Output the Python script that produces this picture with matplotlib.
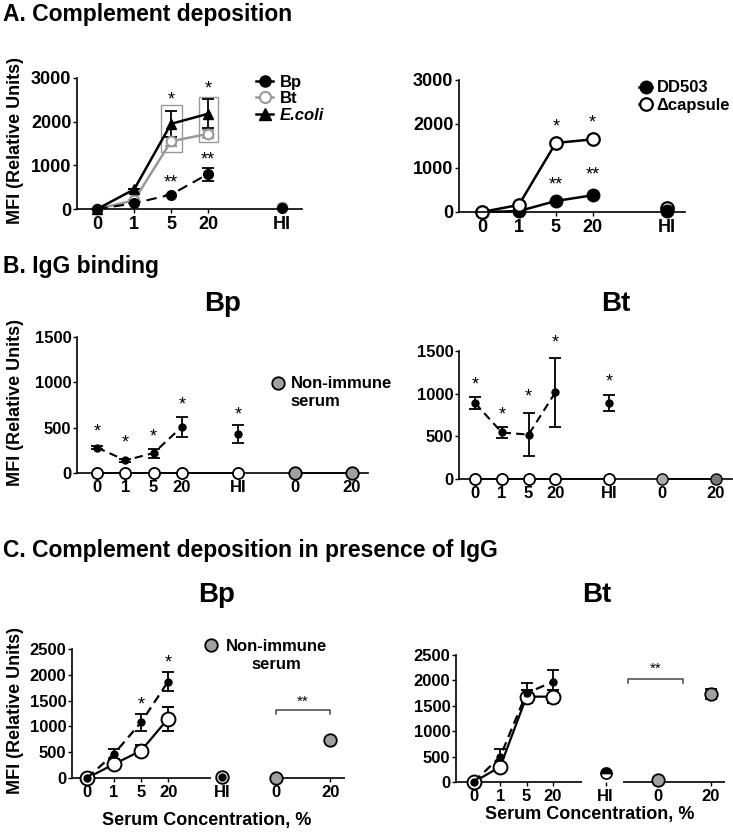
import matplotlib
matplotlib.use('Agg')
import matplotlib.pyplot as plt
from matplotlib.patches import Rectangle
from matplotlib.lines import Line2D

plt.rcParams['font.family'] = ['Liberation Sans', 'DejaVu Sans']
plt.rcParams['font.weight'] = 'bold'
plt.rcParams['axes.linewidth'] = 1.2

# ---- data ----
conc_labels = ['0', '1', '5', '20']
conc_pos = [0, 1, 2, 3]
hi_pos = 5
ni_pos = [7, 9]
ni_labels = ['0', '20']

# A left: complement deposition
a_bp = [0, 130, 330, 800]
a_bp_err = [0, 0, 0, 150]
a_bp_hi = 20
a_bt = [0, 200, 1550, 1720]
a_bt_err = [0, 0, 100, 100]
a_bt_hi = 50
a_ec = [0, 450, 1950, 2180]
a_ec_err = [0, 0, 300, 330]

# A right
a_dd = [0, 20, 250, 380]
a_dd_hi = 20
a_cap = [0, 160, 1570, 1650]
a_cap_hi = 80

# B: IgG binding
b_bp = [280, 140, 220, 510]
b_bp_err = [20, 15, 50, 110]
b_bp_hi = 430
b_bp_hi_err = 100
b_bt = [890, 545, 520, 1015]
b_bt_err = [70, 70, 250, 400]
b_bt_hi = 890
b_bt_hi_err = 90
b_open = [0, 0, 0, 0]
b_open_hi = 0
b_ni = [0, 0]

# C: complement deposition in presence of IgG
c_bp_igg = [0, 470, 1080, 1870]
c_bp_igg_err = [0, 100, 170, 190]
c_bp_open = [0, 270, 530, 1150]
c_bp_open_err = [0, 0, 110, 230]
c_bp_hi = 20
c_bp_ni = [0, 730]
c_bp_ni_err = [0, 0]
c_bt_igg = [0, 500, 1750, 1970]
c_bt_igg_err = [0, 150, 200, 230]
c_bt_open = [0, 300, 1680, 1680]
c_bt_open_err = [0, 0, 130, 130]
c_bt_hi = 170
c_bt_ni = [30, 1730]
c_bt_ni_err = [0, 100]

W, H = 733, 834
fig = plt.figure(figsize=(W / 100, H / 100), dpi=100)


def make_ax(x0, x1, ybot, ytop):
    return fig.add_axes([x0 / W, 1 - ybot / H, (x1 - x0) / W, (ybot - ytop) / H])


def style(ax, xlim, ymax, yticks, ticks, labels, size, spine=True):
    ax.set_xlim(*xlim)
    ax.set_ylim(0, ymax)
    ax.set_yticks(yticks)
    ax.set_xticks(ticks)
    ax.set_xticklabels(labels)
    for s in ['top', 'right']:
        ax.spines[s].set_visible(False)
    ax.spines['bottom'].set_visible(spine)
    ax.tick_params(axis='both', labelsize=size, length=3, width=1, pad=1)
    ax.tick_params(axis='x', pad=2)
    for t in ax.get_xticklabels() + ax.get_yticklabels():
        t.set_fontweight('bold')
    ax.patch.set_alpha(0)


def ylab(ax, x_px):
    # x_px is the right edge of the rotated label
    ax.set_ylabel('MFI (Relative Units)', fontsize=13, fontweight='bold')
    pos = ax.get_position()
    ax.yaxis.set_label_coords((x_px / W - pos.x0) / pos.width, 0.52)


def star(ax, x, y, s, size=13):
    ax.text(x, y, s, ha='center', va='center', fontsize=size, fontweight='normal')


eb = dict(capsize=4, elinewidth=1.3, capthick=1.3, clip_on=False)
dash = (0, (4, 2.5))

# ---------------- A left ----------------
ax = make_ax(77, 302, 209, 78)
style(ax, (-0.55, 5.55), 3000, [0, 1000, 2000, 3000], conc_pos + [hi_pos], conc_labels + ['HI'], 13)
ax.errorbar(conc_pos, a_bt, yerr=a_bt_err, color='#999999', marker='o', mfc='white', mec='#999999',
            ms=7, mew=1.5, lw=1.8, **eb)
ax.errorbar(conc_pos, a_ec, yerr=a_ec_err, color='black', marker='^', ms=7, lw=1.8, **eb)
ax.errorbar(conc_pos, a_bp, yerr=a_bp_err, color='black', marker='o', ms=7, lw=1.5, ls=(0, (5, 3)),
            **eb)
ax.plot(hi_pos, a_bt_hi, 'o', color='#999999', mfc='white', mew=1.5, ms=7, clip_on=False)
ax.plot(hi_pos, a_bp_hi, 'o', color='black', ms=7, clip_on=False)
ax.add_patch(Rectangle((2 - 0.26, 1305), 0.55, 1075, fill=False, ec='#999999', lw=1))
ax.add_patch(Rectangle((3 - 0.24, 1535), 0.52, 1030, fill=False, ec='#999999', lw=1))
star(ax, 2, 2500, '*')
star(ax, 3, 2750, '*')
star(ax, 2, 600, '**')
star(ax, 3, 1120, '**')
handles = [Line2D([], [], color='black', marker='o', ms=8, lw=1.8),
           Line2D([], [], color='#999999', marker='o', mfc='white', mew=1.5, ms=8, lw=1.8),
           Line2D([], [], color='black', marker='^', ms=8, lw=1.8)]
leg = ax.legend(handles, ['Bp', 'Bt', 'E.coli'], loc='upper left', bbox_to_anchor=(0.73, 1.14),
                frameon=False, handlelength=1.0, handletextpad=0.4, labelspacing=0.1,
                prop={'size': 12, 'weight': 'bold'})
leg.get_texts()[2].set_style('italic')
ylab(ax, 24)

# ---------------- A right ----------------
ax = make_ax(459, 685, 212, 80)
style(ax, (-0.62, 5.5), 3000, [0, 1000, 2000, 3000], conc_pos + [hi_pos], conc_labels + ['HI'], 13)
ax.plot(conc_pos, a_dd, 'o-', color='black', ms=9, lw=1.8, clip_on=False)
ax.plot(conc_pos, a_cap, 'o-', color='black', mfc='white', ms=9, mew=1.6, lw=1.8, clip_on=False)
ax.plot(hi_pos, a_cap_hi, 'o', color='black', mfc='white', ms=9, mew=1.6, clip_on=False)
ax.plot(hi_pos, a_dd_hi, 'o', color='black', ms=9, clip_on=False)
star(ax, 2, 1930, '*')
star(ax, 3, 2020, '*')
star(ax, 2, 610, '**')
star(ax, 3, 840, '**')
handles = [Line2D([], [], color='black', marker='o', ms=9, lw=1.8),
           Line2D([], [], color='black', marker='o', mfc='white', mew=1.6, ms=9, lw=1.8)]
ax.legend(handles, ['DD503', '\u0394capsule'], loc='upper left', bbox_to_anchor=(0.73, 1.11),
          frameon=False, handlelength=0.8, handletextpad=0.25, labelspacing=0.15,
          prop={'size': 12, 'weight': 'bold'})

# ---------------- B left ----------------
ax = make_ax(77, 368, 473, 337)
style(ax, (-0.71, 9.58), 1500, [0, 500, 1000, 1500], conc_pos + [hi_pos] + ni_pos,
      conc_labels + ['HI'] + ni_labels, 12)
ax.plot(conc_pos + [hi_pos], b_open + [b_open_hi], 'o-', color='black', mfc='white', ms=8, mew=1.3,
        lw=1.2, clip_on=False, zorder=3)
ax.plot(ni_pos, b_ni, 'o-', color='black', mfc='#a0a0a0', ms=9, mew=1.3, lw=1.2, clip_on=False, zorder=3)
ax.errorbar(conc_pos, b_bp, yerr=b_bp_err, color='black', marker='o', ms=5, lw=1.5, ls=dash, **eb)
ax.errorbar(hi_pos, b_bp_hi, yerr=b_bp_hi_err, color='black', marker='o', ms=5, **eb)
for x, y in zip(conc_pos + [hi_pos], [450, 330, 400, 750, 640]):
    star(ax, x, y, '*')
ax.plot(6.4, 990, 'o', color='black', mfc='#a0a0a0', ms=9, mew=1.3, clip_on=False)
ax.text(6.85, 1070, 'Non-immune\nserum', ha='left', va='top', fontsize=12, fontweight='bold',
        linespacing=1.25)
ax.text(0.5, 1.24, 'Bp', transform=ax.transAxes, ha='center', va='center', fontsize=20, fontweight='bold')
ylab(ax, 24)

# ---------------- B right ----------------
ax = make_ax(459, 732, 479, 351)
style(ax, (-0.6, 9.6), 1500, [0, 500, 1000, 1500], conc_pos + [hi_pos] + ni_pos,
      conc_labels + ['HI'] + ni_labels, 12)
ax.plot(conc_pos + [hi_pos], b_open + [b_open_hi], 'o-', color='black', mfc='white', ms=8, mew=1.3,
        lw=1.2, clip_on=False, zorder=3)
ax.plot(ni_pos, b_ni, '-', color='black', lw=1.2, clip_on=False, zorder=3)
for x, y, c in zip(ni_pos, b_ni, ['#aaaaaa', '#777777']):
    ax.plot(x, y, 'o', color='black', mfc=c, ms=8, mew=1.0, clip_on=False, zorder=4)
ax.errorbar(conc_pos, b_bt, yerr=b_bt_err, color='black', marker='o', ms=5, lw=1.5, ls=dash, **eb)
ax.errorbar(hi_pos, b_bt_hi, yerr=b_bt_hi_err, color='black', marker='o', ms=5, **eb)
for x, y in zip(conc_pos + [hi_pos], [1100, 750, 960, 1590, 1140]):
    star(ax, x, y, '*')
ax.text(157 / 273, 1.37, 'Bt', transform=ax.transAxes, ha='center', va='center', fontsize=20,
        fontweight='bold')

# ---------------- C left ----------------
ax = make_ax(72, 345, 778, 649)
style(ax, (-0.56, 9.55), 2500, [0, 500, 1000, 1500, 2000, 2500], conc_pos + [hi_pos] + ni_pos,
      conc_labels + ['HI'] + ni_labels, 12, spine=False)
ax.hlines(0, -0.56, 4.6, color='black', lw=1.2, clip_on=False)
ax.hlines(0, 6.8, 9.55, color='black', lw=1.2, clip_on=False)
ax.errorbar(conc_pos, c_bp_open, yerr=c_bp_open_err, color='black', marker='o', mfc='white', ms=10,
            mew=1.4, lw=1.6, **eb)
ax.errorbar(conc_pos, c_bp_igg, yerr=c_bp_igg_err, color='black', marker='o', ms=5, lw=1.6, ls=dash, **eb)
ax.plot(hi_pos, c_bp_hi, 'o', color='black', mfc='white', ms=9, mew=1.4, clip_on=False)
ax.plot(hi_pos, c_bp_hi, 'o', color='black', ms=5, clip_on=False)
ax.errorbar(ni_pos, c_bp_ni, yerr=c_bp_ni_err, fmt='o', color='black', mfc='#a0a0a0', ms=9, mew=1.3,
            zorder=4, **eb)
star(ax, 2, 1415, '*')
star(ax, 3, 2230, '*')
ax.plot([7, 7, 9, 9], [1250, 1320, 1320, 1250], color='#444444', lw=1.1, clip_on=False)
star(ax, 8, 1480, '**', size=11)
ax.plot(4.6, 2580, 'o', color='black', mfc='#a0a0a0', ms=9, mew=1.3, clip_on=False)
ax.text(7.0, 2700, 'Non-immune\nserum', ha='center', va='top', fontsize=12, fontweight='bold',
        linespacing=1.25)
ax.text(0.53, 1.42, 'Bp', transform=ax.transAxes, ha='center', va='center', fontsize=20,
        fontweight='bold')
ylab(ax, 24)

# ---------------- C right ----------------
ax = make_ax(456, 725, 782, 655)
style(ax, (-0.68, 9.54), 2500, [0, 500, 1000, 1500, 2000, 2500], conc_pos + [hi_pos] + ni_pos,
      conc_labels + ['HI'] + ni_labels, 12, spine=False)
ax.hlines(0, -0.68, 4.1, color='black', lw=1.2, clip_on=False)
ax.hlines(0, 5.67, 9.54, color='black', lw=1.2, clip_on=False)
ax.errorbar(conc_pos, c_bt_open, yerr=c_bt_open_err, color='black', marker='o', mfc='white', ms=10,
            mew=1.4, lw=1.6, **eb)
ax.errorbar(conc_pos, c_bt_igg, yerr=c_bt_igg_err, color='black', marker='o', ms=5, lw=1.6, ls=dash, **eb)
ax.plot(hi_pos, c_bt_hi, 'o', color='black', mfc='black', mfcalt='white', fillstyle='top', ms=8,
        mew=1.2, clip_on=False)
ax.errorbar(ni_pos, c_bt_ni, yerr=c_bt_ni_err, fmt='o', color='black', mfc='#a0a0a0', ms=9, mew=1.3,
            zorder=4, **eb)
ax.plot([5.85, 5.85, 7.95, 7.95], [1950, 2030, 2030, 1950], color='#444444', lw=1.1, clip_on=False)
star(ax, 6.9, 2220, '**', size=11)
ax.text(0.525, 1.47, 'Bt', transform=ax.transAxes, ha='center', va='center', fontsize=20,
        fontweight='bold')

# x labels of panel C
fig.text(207 / W, 1 - 820 / H, 'Serum Concentration, %', fontsize=13, fontweight='bold',
         ha='center', va='center')
fig.text(590 / W, 1 - 815 / H, 'Serum Concentration, %', fontsize=13, fontweight='bold',
         ha='center', va='center')

# section titles
fig.text(3 / W, 1 - 15 / H, 'A. Complement deposition', fontsize=16.5, fontweight='bold', va='center')
fig.text(3 / W, 1 - 266 / H, 'B. IgG binding', fontsize=16.5, fontweight='bold', va='center')
fig.text(3 / W, 1 - 550 / H, 'C. Complement deposition in presence of IgG', fontsize=16.5,
         fontweight='bold', va='center')

fig.savefig('out.png', dpi=100)
